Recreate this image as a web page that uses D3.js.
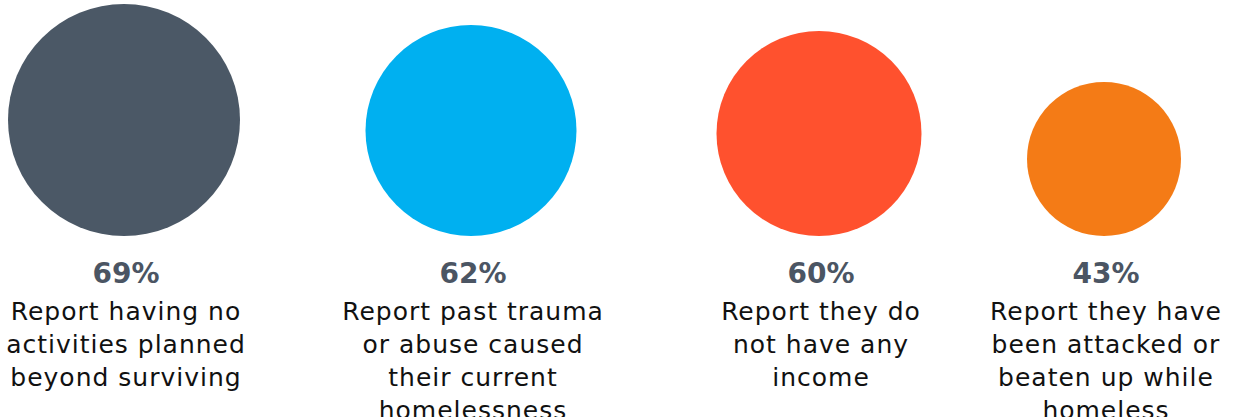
<!DOCTYPE html>
<html>
<head>
<meta charset="utf-8">
<script src="https://cdn.jsdelivr.net/npm/d3@7"></script>
<style>
  body { margin: 0; background: #fff; }
  svg { display: block; }
</style>
</head>
<body>
<div id="chart"></div>
<script>
// datos del grafico
const categorias = ["no_activities", "trauma", "no_income", "attacked"];
const valores = [69, 62, 60, 43];
const etiquetas = [
    ["Report having no", "activities planned", "beyond surviving"],
    ["Report past trauma", "or abuse caused", "their current", "homelessness"],
    ["Report they do", "not have any", "income"],
    ["Report they have", "been attacked or", "beaten up while", "homeless"]
];
const colores = ["#4b5866", "#00b0f0", "#ff512e", "#f47b16"];

const width = 1235, height = 417;
const baseCirculo = 236;   // todos los circulos apoyados en la misma linea

const svg = d3.select("#chart").append("svg")
    .attr("width", width)
    .attr("height", height);

const datos = categorias.map((c, i) => ({
    id: c, valor: valores[i], lineas: etiquetas[i], color: colores[i]
}));

// posicion de cada columna
const escalaX = d3.scaleOrdinal()
    .domain(categorias)
    .range([124, 471, 819, 1104]);

// radio segun porcentaje
const escalaRadio = d3.scaleLinear()
    .domain([43, 69])
    .range([77, 116]);

const columnas = svg.selectAll("g.col")
    .data(datos)
    .join("g")
    .attr("class", "col")
    .attr("transform", d => `translate(${escalaX(d.id)},0)`);

columnas.append("circle")
    .attr("cx", 0)
    .attr("cy", d => baseCirculo - escalaRadio(d.valor))
    .attr("r", d => escalaRadio(d.valor))
    .attr("fill", d => d.color);

columnas.append("text")
    .attr("x", 2)
    .attr("y", 283)
    .attr("text-anchor", "middle")
    .attr("font-family", "'DejaVu Sans', sans-serif")
    .attr("font-weight", "bold")
    .attr("font-size", 28)
    .attr("fill", "#4b5563")
    .text(d => d.valor + "%");

const texto = columnas.append("text")
    .attr("text-anchor", "middle")
    .attr("font-family", "'DejaVu Sans', sans-serif")
    .attr("font-size", 25)
    .attr("letter-spacing", 1)
    .attr("fill", "#111");

texto.selectAll("tspan")
    .data(d => d.lineas)
    .join("tspan")
    .attr("x", 2)
    .attr("y", (d, i) => 320 + i * 33)
    .text(d => d);
</script>
</body>
</html>
